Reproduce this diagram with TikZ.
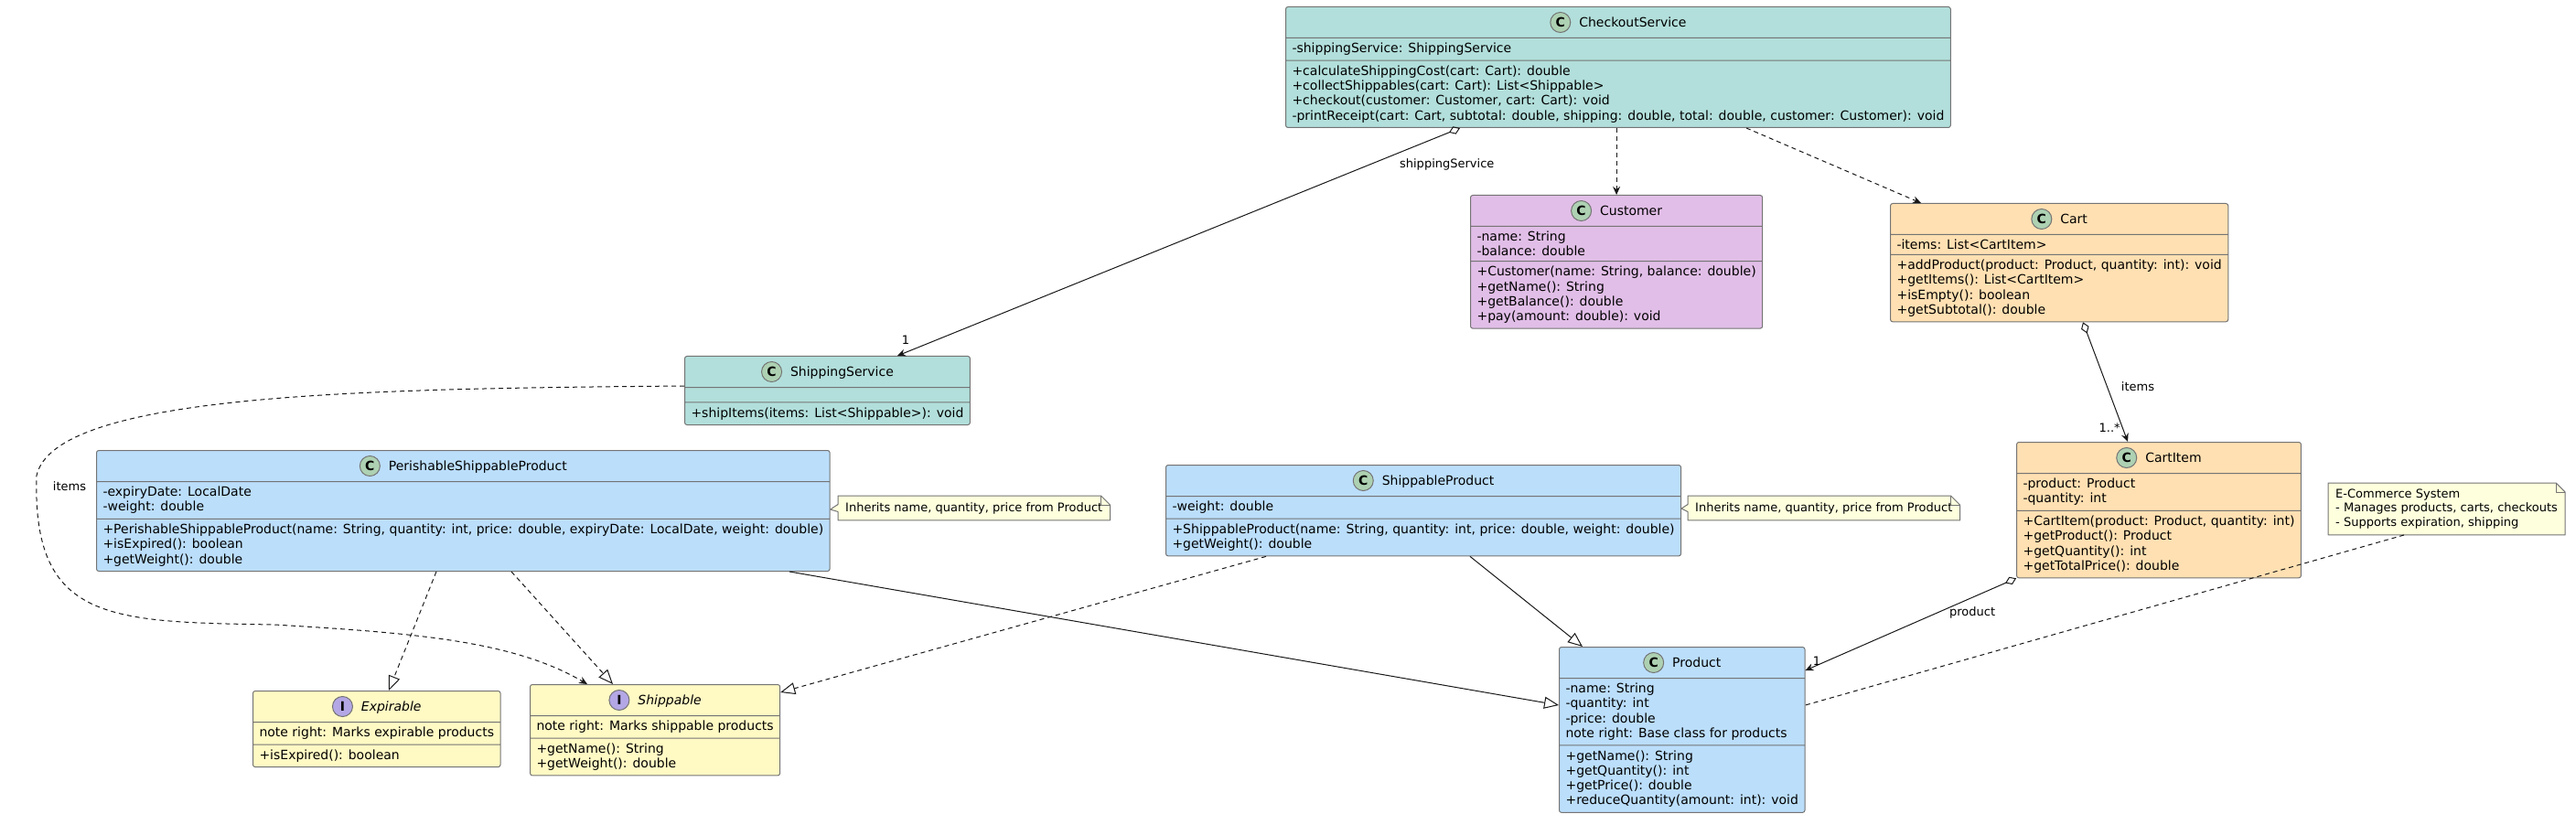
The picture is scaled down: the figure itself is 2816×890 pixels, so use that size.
\documentclass[tikz,border=0pt]{standalone}
\usepackage{fontspec}
\setmainfont{DejaVu Sans}
\usepackage{tikz}
\usetikzlibrary{arrows.meta, shapes.multipart}
\definecolor{svcfill}{HTML}{B2DFDB}
\definecolor{custfill}{HTML}{E1BEE7}
\definecolor{cartfill}{HTML}{FFE0B2}
\definecolor{prodfill}{HTML}{BBDEFB}
\definecolor{ifacefill}{HTML}{FFF9C4}
\definecolor{notefill}{HTML}{FEFFDD}
\definecolor{iconc}{HTML}{ADD1B2}
\definecolor{iconi}{HTML}{B4A7E5}
\definecolor{boxline}{HTML}{747474}
\definecolor{edgeline}{HTML}{181818}
\tikzset{umlclass/.style = {rectangle split, rectangle split parts = 3, rectangle split part align = {center, left, left}, draw = boxline, line width = 1pt, rounded corners = 2.5pt, align = left, inner xsep = 7pt, inner ysep = 5pt, anchor = north west, font = \fontsize{14}{16.3}\selectfont}}
\tikzset{notebox/.style = {fill = notefill, align = left, inner xsep = 8pt, inner ysep = 7pt, anchor = north west, font = \fontsize{13}{15.1}\selectfont}}
\tikzset{noteline/.style = {draw = boxline, line width = 1pt, line join = round}}
\tikzset{link/.style = {draw = edgeline, line width = 1pt}}
\tikzset{depend/.style = {link, dash pattern = on 5pt off 4pt, arrows = {-Stealth[length = 9pt, width = 8pt, inset = 3pt]}}}
\tikzset{assoc/.style = {link, arrows = {Diamond[open, length = 13pt, width = 9pt]-Stealth[length = 9pt, width = 8pt, inset = 3pt]}}}
\tikzset{realize/.style = {link, dash pattern = on 5pt off 4pt, arrows = {-Triangle[open, length = 16pt, width = 13pt]}}}
\tikzset{inherit/.style = {link, arrows = {-Triangle[open, length = 16pt, width = 13pt]}}}
\tikzset{edgelabel/.style = {font = \fontsize{13}{15.1}\selectfont, inner sep = 1pt, text = black}}
\newcommand{\classicon}[2]{\tikz[baseline = (ic.base)] \node[circle, anchor = center, draw = boxline, fill = #2, line width = 1pt, inner sep = 0pt, minimum size = 22pt, font = \bfseries\fontsize{14}{14}\selectfont, text = black] (ic) {#1};\hspace{9pt}}
\newcommand{\notefold}[1]{%
	\fill[white] ([xshift = -10pt]#1.north east) -- (#1.north east) -- ([yshift = -10pt]#1.north east) -- cycle;
	\draw[noteline] (#1.south west) -- (#1.north west) -- ([xshift = -10pt]#1.north east) -- ([yshift = -10pt]#1.north east) -- (#1.south east) -- cycle;
	\draw[noteline] ([xshift = -10pt]#1.north east) |- ([yshift = -10pt]#1.north east);}
\newcommand{\notewedge}[2]{%
	\fill[notefill] (#1) -- ([shift = {(1pt, 4pt)}]#2.west) -- ([shift = {(1pt, -4pt)}]#2.west) -- cycle;
	\draw[noteline] ([yshift = 4pt]#2.west) -- (#1) -- ([yshift = -4pt]#2.west);}

\begin{document}
\begin{tikzpicture}[x = 1pt, y = -1pt]
	\useasboundingbox (0, 0) rectangle (2816, 890);

	\node[umlclass, fill = svcfill] (checkout) at (1405, 7) {\classicon{C}{iconc}CheckoutService%
		\nodepart{two}-shippingService: ShippingService%
		\nodepart{three}+calculateShippingCost(cart: Cart): double\\
		+collectShippables(cart: Cart): List<Shippable>\\
		+checkout(customer: Customer, cart: Cart): void\\
		-printReceipt(cart: Cart, subtotal: double, shipping: double, total: double, customer: Customer): void};
	\node[umlclass, fill = custfill] (customer) at (1607, 213) {\classicon{C}{iconc}Customer%
		\nodepart{two}-name: String\\
		-balance: double%
		\nodepart{three}+Customer(name: String, balance: double)\\
		+getName(): String\\
		+getBalance(): double\\
		+pay(amount: double): void};
	\node[umlclass, fill = cartfill] (cart) at (2066, 222) {\classicon{C}{iconc}Cart%
		\nodepart{two}-items: List<CartItem>%
		\nodepart{three}+addProduct(product: Product, quantity: int): void\\
		+getItems(): List<CartItem>\\
		+isEmpty(): boolean\\
		+getSubtotal(): double};
	\node[umlclass, fill = svcfill] (shipping) at (748, 389) {\classicon{C}{iconc}ShippingService%
		\nodepart{two}%
		\nodepart{three}+shipItems(items: List<Shippable>): void};
	\node[umlclass, fill = prodfill] (perishable) at (105, 492) {\classicon{C}{iconc}PerishableShippableProduct%
		\nodepart{two}-expiryDate: LocalDate\\
		-weight: double%
		\nodepart{three}+PerishableShippableProduct(name: String, quantity: int, price: double, expiryDate: LocalDate, weight: double)\\
		+isExpired(): boolean\\
		+getWeight(): double};
	\node[umlclass, fill = prodfill] (shipprod) at (1274, 508) {\classicon{C}{iconc}ShippableProduct%
		\nodepart{two}-weight: double%
		\nodepart{three}+ShippableProduct(name: String, quantity: int, price: double, weight: double)\\
		+getWeight(): double};
	\node[umlclass, fill = cartfill] (cartitem) at (2204, 483) {\classicon{C}{iconc}CartItem%
		\nodepart{two}-product: Product\\
		-quantity: int%
		\nodepart{three}+CartItem(product: Product, quantity: int)\\
		+getProduct(): Product\\
		+getQuantity(): int\\
		+getTotalPrice(): double};
	\node[umlclass, fill = prodfill] (product) at (1704, 707) {\classicon{C}{iconc}Product%
		\nodepart{two}-name: String\\
		-quantity: int\\
		-price: double\\
		note right: Base class for products%
		\nodepart{three}+getName(): String\\
		+getQuantity(): int\\
		+getPrice(): double\\
		+reduceQuantity(amount: int): void};
	\node[umlclass, fill = ifacefill] (expirable) at (276, 755) {\classicon{I}{iconi}\textit{Expirable}%
		\nodepart{two}note right: Marks expirable products%
		\nodepart{three}+isExpired(): boolean};
	\node[umlclass, fill = ifacefill] (shippable) at (579, 748) {\classicon{I}{iconi}\textit{Shippable}%
		\nodepart{two}note right: Marks shippable products%
		\nodepart{three}+getName(): String\\
		+getWeight(): double};

	\node[notebox] (perishnote) at (916, 542) {Inherits name, quantity, price from Product};
	\node[notebox] (shipnote) at (1845, 542) {Inherits name, quantity, price from Product};
	\node[notebox] (shopnote) at (2545, 528) {E-Commerce System\\
		- Manages products, carts, checkouts\\
		- Supports expiration, shipping};
	\notefold{perishnote}
	\notefold{shipnote}
	\notefold{shopnote}
	\notewedge{[yshift = -65pt]perishable.north east}{perishnote}
	\notewedge{[yshift = -48pt]shipprod.north east}{shipnote}

	\draw[assoc] ([xshift = 191pt]checkout.south west) -- ([xshift = 233pt]shipping.north west)
		node[edgelabel, pos = 0.16, right = 31pt] {shippingService}
		node[edgelabel, pos = 0.93, xshift = -34pt] {1};
	\draw[depend] (customer.north |- checkout.south) -- (customer.north);
	\draw[depend] ([xshift = 504pt]checkout.south west) -- ([xshift = 34pt]cart.north west);
	\draw[assoc] ([xshift = 211pt]cart.south west) -- ([xshift = 122pt]cartitem.north west)
		node[edgelabel, pos = 0.54, right = 14pt] {items}
		node[edgelabel, pos = 0.88, left = 1pt] {1..*};
	\draw[assoc] (cartitem.south west) -- ([yshift = -26pt]product.north east)
		node[edgelabel, pos = 0.375, right = 12pt] {product}
		node[edgelabel, pos = 0.9, left = 5pt] {1};
	\draw[depend] ([yshift = -33pt]shipping.north west) .. controls (400, 425) and (60, 430) .. (40, 520)
		.. controls (35, 680) and (120, 680) .. (300, 683)
		.. controls (450, 692) and (560, 700) .. ([xshift = 63pt]shippable.north west);
	\node[edgelabel] (itemslabel) at (76, 532) {items};
	\draw[realize] ([xshift = 372pt]perishable.south west) -- ([xshift = 149pt]expirable.north west);
	\draw[realize] ([xshift = 454pt]perishable.south west) -- ([xshift = 91pt]shippable.north west);
	\draw[inherit] ([xshift = 758pt]perishable.south west) -- ([yshift = -64pt]product.north west);
	\draw[realize] ([xshift = 110pt]shipprod.south west) -- ([yshift = -9pt]shippable.north east);
	\draw[inherit] ([xshift = 333pt]shipprod.south west) -- ([xshift = 26pt]product.north west);
	\draw[link, dash pattern = on 5pt off 4pt] ([xshift = 83pt]shopnote.south west) -- ([yshift = -64pt]product.north east);
\end{tikzpicture}
\end{document}
